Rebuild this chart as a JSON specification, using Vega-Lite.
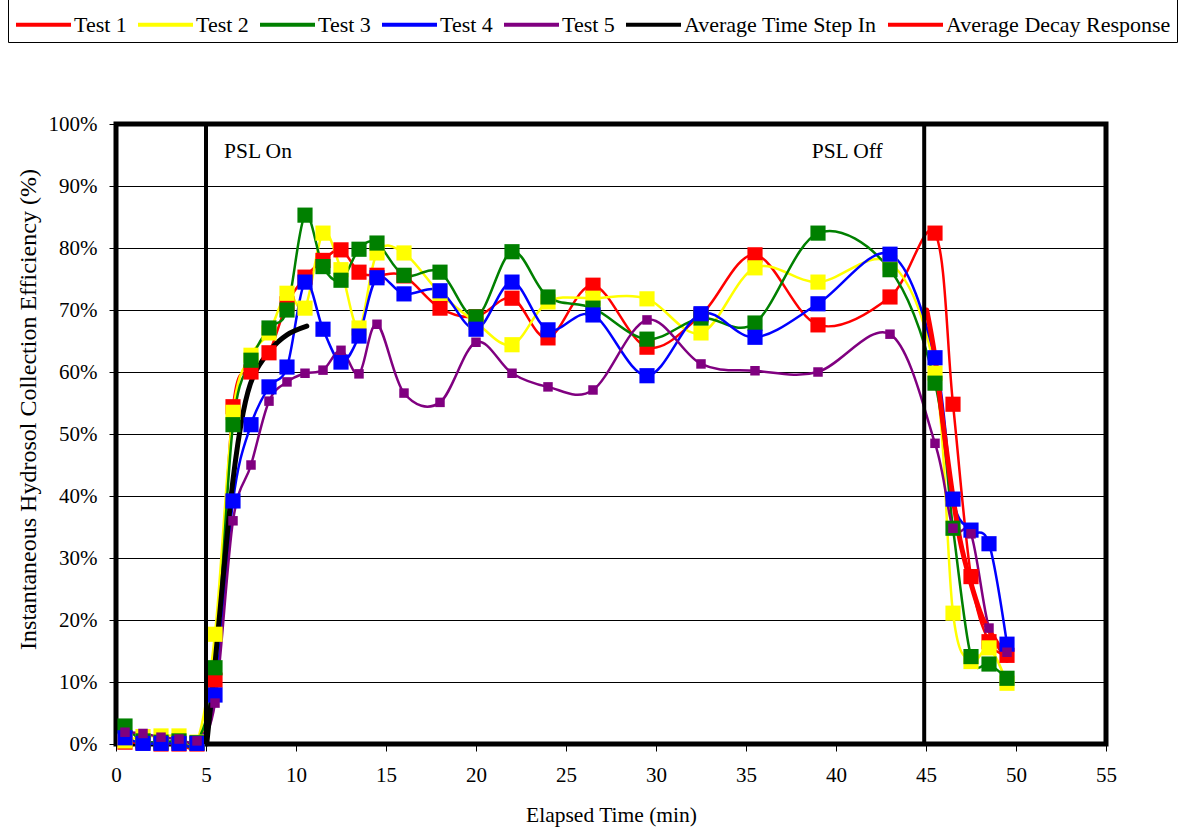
{
  "$schema": "https://vega.github.io/schema/vega-lite/v6.json",
  "width": 990,
  "height": 620,
  "autosize": {"type": "none"},
  "padding": {"left": 116, "top": 124, "right": 75, "bottom": 85},
  "background": "white",
  "config": {
    "font": "Liberation Serif",
    "view": {"stroke": "black", "strokeWidth": 5},
    "axis": {"labelFont": "Liberation Serif", "titleFont": "Liberation Serif", "labelColor": "black", "titleColor": "black", "tickColor": "black", "labelFontSize": 21, "titleFontWeight": "normal"}
  },
  "datasets": {
    "tests": [
      {"t": 0.5, "Test 1": 0.3, "Test 2": 0.5, "Test 3": 2.9, "Test 4": 1.0, "Test 5": 1.9},
      {"t": 1.5, "Test 1": 0.2, "Test 2": 1.2, "Test 3": 0.5, "Test 4": 0.1, "Test 5": 1.7},
      {"t": 2.5, "Test 1": 0.0, "Test 2": 1.3, "Test 3": 0.3, "Test 4": 0.1, "Test 5": 1.1},
      {"t": 3.5, "Test 1": 0.0, "Test 2": 1.3, "Test 3": 0.5, "Test 4": 0.1, "Test 5": 0.8},
      {"t": 4.5, "Test 1": 0.0, "Test 2": 0.3, "Test 3": 0.2, "Test 4": 0.1, "Test 5": 0.5},
      {"t": 5.5, "Test 1": 10.3, "Test 2": 17.7, "Test 3": 12.3, "Test 4": 7.9, "Test 5": 6.6},
      {"t": 6.5, "Test 1": 54.4, "Test 2": 53.5, "Test 3": 51.5, "Test 4": 39.2, "Test 5": 36.0},
      {"t": 7.5, "Test 1": 60.0, "Test 2": 62.7, "Test 3": 61.9, "Test 4": 51.5, "Test 5": 45.0},
      {"t": 8.5, "Test 1": 63.1, "Test 2": 66.3, "Test 3": 67.1, "Test 4": 57.6, "Test 5": 55.3},
      {"t": 9.5, "Test 1": 71.0, "Test 2": 72.7, "Test 3": 70.0, "Test 4": 60.8, "Test 5": 58.4},
      {"t": 10.5, "Test 1": 75.3, "Test 2": 70.3, "Test 3": 85.3, "Test 4": 74.5, "Test 5": 59.8},
      {"t": 11.5, "Test 1": 78.0, "Test 2": 82.4, "Test 3": 77.0, "Test 4": 66.9, "Test 5": 60.3},
      {"t": 12.5, "Test 1": 79.7, "Test 2": 76.5, "Test 3": 74.8, "Test 4": 61.6, "Test 5": 63.5},
      {"t": 13.5, "Test 1": 76.1, "Test 2": 67.1, "Test 3": 79.8, "Test 4": 65.8, "Test 5": 59.7},
      {"t": 14.5, "Test 1": 75.6, "Test 2": 79.2, "Test 3": 80.8, "Test 4": 75.2, "Test 5": 67.7},
      {"t": 16, "Test 1": 75.5, "Test 2": 79.2, "Test 3": 75.6, "Test 4": 72.6, "Test 5": 56.6},
      {"t": 18, "Test 1": 70.3, "Test 2": 72.7, "Test 3": 76.1, "Test 4": 73.1, "Test 5": 55.1},
      {"t": 20, "Test 1": 68.9, "Test 2": 68.0, "Test 3": 68.9, "Test 4": 66.9, "Test 5": 64.8},
      {"t": 22, "Test 1": 71.9, "Test 2": 64.4, "Test 3": 79.4, "Test 4": 74.5, "Test 5": 59.8},
      {"t": 24, "Test 1": 65.5, "Test 2": 71.3, "Test 3": 72.1, "Test 4": 66.8, "Test 5": 57.6},
      {"t": 26.5, "Test 1": 74.0, "Test 2": 71.9, "Test 3": 70.3, "Test 4": 69.2, "Test 5": 57.1},
      {"t": 29.5, "Test 1": 64.0, "Test 2": 71.8, "Test 3": 65.3, "Test 4": 59.4, "Test 5": 68.4},
      {"t": 32.5, "Test 1": 69.2, "Test 2": 66.3, "Test 3": 68.7, "Test 4": 69.4, "Test 5": 61.3},
      {"t": 35.5, "Test 1": 78.9, "Test 2": 76.8, "Test 3": 67.9, "Test 4": 65.6, "Test 5": 60.2},
      {"t": 39, "Test 1": 67.6, "Test 2": 74.5, "Test 3": 82.4, "Test 4": 71.0, "Test 5": 60.0},
      {"t": 43, "Test 1": 72.1, "Test 2": 77.6, "Test 3": 76.5, "Test 4": 79.0, "Test 5": 66.1},
      {"t": 45.5, "Test 1": 82.4, "Test 2": 59.8, "Test 3": 58.2, "Test 4": 62.3, "Test 5": 48.5},
      {"t": 46.5, "Test 1": 54.8, "Test 2": 21.1, "Test 3": 34.8, "Test 4": 39.5, "Test 5": 34.8},
      {"t": 47.5, "Test 1": 27.0, "Test 2": 13.3, "Test 3": 14.1, "Test 4": 34.5, "Test 5": 33.9},
      {"t": 48.5, "Test 1": 16.5, "Test 2": 15.5, "Test 3": 12.9, "Test 4": 32.3, "Test 5": 18.7},
      {"t": 49.5, "Test 1": 14.3, "Test 2": 9.8, "Test 3": 10.6, "Test 4": 16.1, "Test 5": 14.8}
    ],
    "avg": [
      {"series": "Average Time Step In", "t": 5.04, "v": 0},
      {"series": "Average Time Step In", "t": 5.5, "v": 13},
      {"series": "Average Time Step In", "t": 5.94, "v": 26.5},
      {"series": "Average Time Step In", "t": 6.5, "v": 42.6},
      {"series": "Average Time Step In", "t": 7.06, "v": 53.4},
      {"series": "Average Time Step In", "t": 7.61, "v": 59.2},
      {"series": "Average Time Step In", "t": 8.56, "v": 63.5},
      {"series": "Average Time Step In", "t": 9.5, "v": 66.0},
      {"series": "Average Time Step In", "t": 10.6, "v": 67.4},
      {"series": "Average Decay Response", "t": 45.04, "v": 70.0},
      {"series": "Average Decay Response", "t": 45.5, "v": 62.4},
      {"series": "Average Decay Response", "t": 45.94, "v": 51.8},
      {"series": "Average Decay Response", "t": 46.44, "v": 41.0},
      {"series": "Average Decay Response", "t": 46.89, "v": 32.9},
      {"series": "Average Decay Response", "t": 47.44, "v": 26.5},
      {"series": "Average Decay Response", "t": 48.11, "v": 20.5},
      {"series": "Average Decay Response", "t": 48.94, "v": 16.3},
      {"series": "Average Decay Response", "t": 49.5, "v": 13.5}
    ],
    "psl": [{"t": 5.0}, {"t": 44.9}],
    "notes": [
      {"t": 6.0, "v": 94.5, "label": "PSL On"},
      {"t": 38.65, "v": 94.5, "label": "PSL Off"}
    ]
  },
  "layer": [
    {
      "data": {"name": "tests"},
      "transform": [{"fold": ["Test 1", "Test 2", "Test 3", "Test 4", "Test 5"], "as": ["series", "v"]}],
      "mark": {"type": "line", "interpolate": "cardinal", "strokeWidth": 2.5},
      "encoding": {
        "x": {
          "field": "t", "type": "quantitative",
          "scale": {"domain": [0, 55], "nice": false, "zero": false},
          "axis": {
            "values": [0,5,10,15,20,25,30,35,40,45,50,55],
            "grid": false, "domain": false, "tickSize": 7, "labelPadding": 13,
            "labelFlush": false, "labelOverlap": false,
            "title": "Elapsed Time (min)", "titleFontSize": 21.5,
            "titleX": 495, "titleY": 71, "titleBaseline": "middle", "titleAlign": "center"
          }
        },
        "y": {
          "field": "v", "type": "quantitative",
          "scale": {"domain": [0, 100], "nice": false},
          "axis": {
            "values": [0,10,20,30,40,50,60,70,80,90,100],
            "labelExpr": "datum.value + '%'",
            "grid": true, "gridColor": "black", "gridWidth": 1.2, "gridOpacity": 1,
            "domain": false, "tickSize": 7, "labelPadding": 12,
            "title": "Instantaneous Hydrosol Collection Efficiency (%)", "titleFontSize": 24,
            "titleX": -88, "titleY": 285, "titleAngle": -90, "titleAlign": "center", "titleBaseline": "middle"
          }
        },
        "color": {
          "field": "series", "type": "nominal",
          "scale": {
            "domain": ["Test 1", "Test 2", "Test 3", "Test 4", "Test 5", "Average Time Step In", "Average Decay Response"],
            "range": ["#ff0000", "#ffff00", "#008000", "#0000ff", "#800080", "#000000", "#ff0000"]
          },
          "legend": {
            "orient": "none", "legendX": -108, "legendY": -135, "direction": "horizontal", "columns": 7,
            "title": null, "labelFontSize": 22, "labelFont": "Liberation Serif", "labelColor": "black",
            "labelOffset": 1, "columnPadding": 3, "labelLimit": 400,
            "symbolSize": 3025, "symbolStrokeWidth": 4, "symbolType": "stroke",
            "padding": 6, "strokeColor": "black", "fillColor": "white"
          }
        }
      }
    },
    {
      "data": {"name": "avg"},
      "mark": {"type": "line", "interpolate": "cardinal", "strokeWidth": 5, "strokeCap": "round"},
      "encoding": {
        "x": {"field": "t", "type": "quantitative"},
        "y": {"field": "v", "type": "quantitative"},
        "color": {"field": "series", "type": "nominal"}
      }
    },
    {
      "data": {"name": "tests"},
      "transform": [{"fold": ["Test 1", "Test 2", "Test 3", "Test 4", "Test 5"], "as": ["series", "v"]}],
      "mark": {"type": "point", "shape": "square", "filled": true, "opacity": 1},
      "encoding": {
        "x": {"field": "t", "type": "quantitative"},
        "y": {"field": "v", "type": "quantitative"},
        "color": {"field": "series", "type": "nominal"},
        "size": {"condition": {"test": "datum.series === 'Test 5'", "value": 90}, "value": 230}
      }
    },
    {
      "data": {"name": "psl"},
      "mark": {"type": "rule", "color": "black", "strokeWidth": 4},
      "encoding": {
        "x": {"field": "t", "type": "quantitative"}
      }
    },
    {
      "data": {"name": "notes"},
      "mark": {"type": "text", "align": "left", "baseline": "alphabetic", "fontSize": 21.5, "font": "Liberation Serif", "color": "black"},
      "encoding": {
        "x": {"field": "t", "type": "quantitative"},
        "y": {"field": "v", "type": "quantitative"},
        "text": {"field": "label"}
      }
    }
  ]
}
